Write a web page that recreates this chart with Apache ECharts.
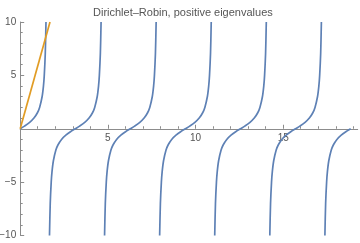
<!DOCTYPE html>
<html>
<head>
<meta charset="utf-8">
<script src="https://cdn.jsdelivr.net/npm/echarts@6/dist/echarts.min.js"></script>
<style>
  html, body { margin: 0; padding: 0; background: #fff; }
  #chart { width: 360px; height: 243px; }
</style>
</head>
<body>
<div id="chart"></div>
<script>
// tan(x) levels shared by every branch, from the bottom of the window to the top
var tanLevels = [-10, -7, -5, -4, -3, -2, -1.5, -1, -0.6, -0.25, 0,
                 0.25, 0.6, 1, 1.5, 2, 3, 4, 5, 7, 10];

// x positions where each branch of tan(x) reaches those levels
var branch0 = [null, null, null, null, null, null, null, null, null, null,
               0, 0.245, 0.540, 0.785, 0.983, 1.107, 1.249, 1.326, 1.373, 1.429, 1.471];
var branch1 = [1.671, 1.713, 1.769, 1.816, 1.893, 2.035, 2.159, 2.357, 2.602, 2.897,
               3.142, 3.387, 3.682, 3.927, 4.125, 4.249, 4.391, 4.468, 4.515, 4.571, 4.613];
var branch2 = [4.812, 4.854, 4.910, 4.957, 5.034, 5.176, 5.300, 5.498, 5.743, 6.038,
               6.283, 6.528, 6.823, 7.068, 7.266, 7.390, 7.532, 7.609, 7.656, 7.712, 7.754];
var branch3 = [7.954, 7.996, 8.052, 8.099, 8.176, 8.318, 8.442, 8.640, 8.885, 9.180,
               9.425, 9.670, 9.965, 10.210, 10.408, 10.532, 10.674, 10.751, 10.798, 10.854, 10.896];
var branch4 = [11.095, 11.137, 11.193, 11.240, 11.317, 11.459, 11.583, 11.781, 12.026, 12.321,
               12.566, 12.811, 13.106, 13.351, 13.549, 13.673, 13.815, 13.892, 13.939, 13.995, 14.037];
var branch5 = [14.237, 14.279, 14.335, 14.382, 14.459, 14.601, 14.725, 14.923, 15.168, 15.463,
               15.708, 15.953, 16.248, 16.493, 16.691, 16.815, 16.957, 17.034, 17.081, 17.137, 17.179];
var branch6 = [17.379, 17.421, 17.477, 17.524, 17.601, 17.743, 17.867, 18.065, 18.310, 18.605,
               18.850, null, null, null, null, null, null, null, null, null, null];

// straight line through the origin (Robin condition), clipped at the top
var lineX = [0, 1.70];
var lineY = [0, 10];

var xTickValues = [0, 5, 10, 15];
var yTickValues = [-10, -5, 0, 5, 10];

var titleText = 'Dirichlet\u2013Robin, positive eigenvalues';

var BLUE = '#5E81B5';
var ORANGE = '#E19C24';
var AXIS = '#8c8c8c';
var TEXT = '#555555';
var FONT = '"Liberation Sans", Arial, sans-serif';

// plot box in pixels; the horizontal axis sits on y = 0, halfway up
var GRID_TOP = 22, GRID_BOTTOM = 7.5, GRID_H = 243 - GRID_TOP - GRID_BOTTOM;
var Y_MIN = -10, Y_MAX = 10;
var xAxisLift = -GRID_H * (0 - Y_MIN) / (Y_MAX - Y_MIN);

function branchPoints(xs) {
  var pts = [];
  for (var i = 0; i < xs.length; i++) {
    if (xs[i] !== null) pts.push([xs[i], tanLevels[i]]);
  }
  return pts;
}

var branches = [branch0, branch1, branch2, branch3, branch4, branch5, branch6];
var series = branches.map(function (xs) {
  return {
    type: 'line',
    data: branchPoints(xs),
    showSymbol: false,
    smooth: 0.3,
    lineStyle: { color: BLUE, width: 1.7 },
    silent: true,
    z: 3
  };
});

series.push({
  type: 'line',
  data: lineX.map(function (x, i) { return [x, lineY[i]]; }),
  showSymbol: false,
  lineStyle: { color: ORANGE, width: 1.7 },
  silent: true,
  z: 4
});

var chart = echarts.init(document.getElementById('chart'), null, { renderer: 'canvas' });
chart.setOption({
  animation: false,
  backgroundColor: '#ffffff',
  title: {
    text: titleText,
    left: 88,
    top: 2,
    textStyle: { fontFamily: FONT, fontSize: 11, fontWeight: 'normal', color: TEXT }
  },
  grid: { left: 20.2, right: 2.3, top: GRID_TOP, bottom: GRID_BOTTOM,
          containLabel: false, outerBoundsMode: 'none' },
  xAxis: {
    type: 'value',
    position: 'bottom',
    offset: xAxisLift,
    min: 0,
    max: 19.25,
    interval: 5,
    axisLine: { onZero: false, lineStyle: { color: AXIS, width: 1 } },
    axisTick: { show: true, inside: true, length: 4, customValues: xTickValues,
                lineStyle: { color: AXIS, width: 1 } },
    minorTick: { show: true, splitNumber: 5, length: 2.5, lineStyle: { color: AXIS, width: 1 } },
    axisLabel: {
      show: true,
      margin: 4,
      showMaxLabel: false,
      color: TEXT,
      fontFamily: FONT,
      fontSize: 10,
      formatter: function (v) { return (v === 0 || v % 5 !== 0) ? '' : String(v); }
    },
    splitLine: { show: false },
    minorSplitLine: { show: false }
  },
  yAxis: {
    type: 'value',
    min: Y_MIN,
    max: Y_MAX,
    interval: 5,
    axisLine: { show: true, onZero: false, lineStyle: { color: AXIS, width: 1 } },
    axisTick: { show: true, inside: true, length: 4, customValues: yTickValues,
                lineStyle: { color: AXIS, width: 1 } },
    minorTick: { show: true, splitNumber: 5, length: 2.5, lineStyle: { color: AXIS, width: 1 } },
    axisLabel: {
      show: true,
      margin: 4,
      color: TEXT,
      fontFamily: FONT,
      fontSize: 10,
      formatter: function (v) {
        if (v === 0) return '';
        return v < 0 ? '\u2212' + Math.abs(v) : String(v);
      }
    },
    splitLine: { show: false },
    minorSplitLine: { show: false }
  },
  series: series
});
</script>
</body>
</html>
